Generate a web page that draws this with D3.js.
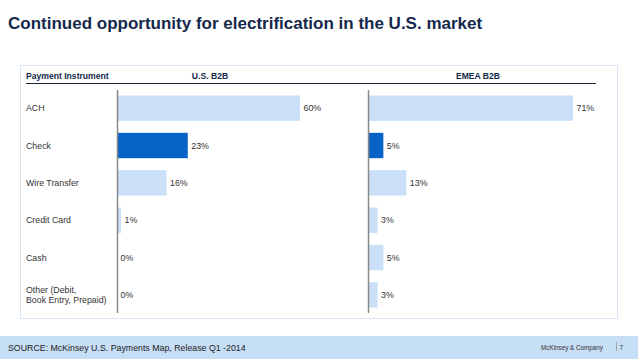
<!DOCTYPE html>
<html><head><meta charset="utf-8">
<script src="https://cdn.jsdelivr.net/npm/d3@7"></script>
<style>body{margin:0;background:#fff;}svg{display:block;font-family:"Liberation Sans",Arial,sans-serif;}</style>
</head><body>
<svg id="c" width="638" height="359"></svg>
<script>
const categories = ["ACH","Check","Wire Transfer","Credit Card","Cash","Other (Debit,|Book Entry, Prepaid)"];
const usValues = [60,23,16,1,0,0];
const emeaValues = [71,5,13,3,5,3];
const highlight = "Check";
const titleText = "Continued opportunity for electrification in the U.S. market";
const sourceText = "SOURCE: McKinsey U.S. Payments Map, Release Q1 -2014";

const svg = d3.select("#c");
const light = "#c9e0f8", dark = "#0863c8", navy = "#14284b", txt = "#333";

svg.append("text").attr("x",8).attr("y",29).attr("font-size",17).attr("font-weight","bold")
  .attr("fill",navy).text(titleText);

// panel box
svg.append("rect").attr("x",20.5).attr("y",65.5).attr("width",597).attr("height",253)
  .attr("fill","#fff").attr("stroke","#d8e6f3").attr("stroke-width",1);

// header
const hs = 8.6;
svg.append("text").attr("x",26).attr("y",78.5).attr("font-size",hs).attr("font-weight","bold").attr("fill",navy).text("Payment Instrument");
svg.append("text").attr("x",210).attr("y",78.5).attr("text-anchor","middle").attr("font-size",hs).attr("font-weight","bold").attr("fill",navy).text("U.S. B2B");
svg.append("text").attr("x",478).attr("y",78.5).attr("text-anchor","middle").attr("font-size",hs).attr("font-weight","bold").attr("fill",navy).text("EMEA B2B");
svg.append("line").attr("x1",26).attr("x2",596).attr("y1",83.5).attr("y2",83.5).attr("stroke","#1a2a3a").attr("stroke-width",1);

const y = d3.scaleBand().domain(categories).range([89.5,313.5]).paddingInner(0.32).paddingOuter(0.16);
const fs = 8.8;

// category labels
categories.forEach(c => {
  const parts = c.split("|");
  const cy = y(c) + y.bandwidth()/2;
  const t = svg.append("text").attr("x",26).attr("font-size",fs).attr("fill",txt);
  parts.forEach((p,i) => {
    t.append("tspan").attr("x",26).attr("y", cy + 3.2 + (i - (parts.length-1)/2)*10.5).text(p);
  });
});

function panel(x0, values, maxV, width) {
  const x = d3.scaleLinear().domain([0,maxV]).range([x0, x0+width]);
  const g = svg.append("g");
  g.selectAll("rect").data(values).join("rect")
    .attr("x", x(0)).attr("y",(d,i)=>y(categories[i]))
    .attr("width", d => x(d)-x(0)).attr("height", y.bandwidth())
    .attr("fill",(d,i)=> categories[i]===highlight ? dark : light);
  g.selectAll("text").data(values).join("text")
    .attr("x", d => x(d) + (d>0?3.5:2.5)).attr("y",(d,i)=>y(categories[i])+y.bandwidth()/2+3.2)
    .attr("font-size",fs).attr("fill",txt).text(d => d + "%");
  g.append("line").attr("x1",x0-0.5).attr("x2",x0-0.5).attr("y1",90).attr("y2",313)
    .attr("stroke","#888").attr("stroke-width",1.5);
}
panel(118, usValues, 60, 182);
panel(369, emeaValues, 71, 204);

// footer
svg.append("rect").attr("x",0).attr("y",336).attr("width",638).attr("height",23).attr("fill","#c6def6");
svg.append("text").attr("x",8).attr("y",351).attr("font-size",8.8).attr("fill","#222").text(sourceText);
svg.append("text").attr("x",603).attr("y",350).attr("text-anchor","end").attr("font-size",6.3).attr("fill","#333").text("McKinsey & Company");
svg.append("line").attr("x1",616.5).attr("x2",616.5).attr("y1",342).attr("y2",351).attr("stroke","#999").attr("stroke-width",0.8);
svg.append("text").attr("x",619.5).attr("y",350).attr("font-size",6.5).attr("fill","#333").text("7");
</script>
</body></html>
